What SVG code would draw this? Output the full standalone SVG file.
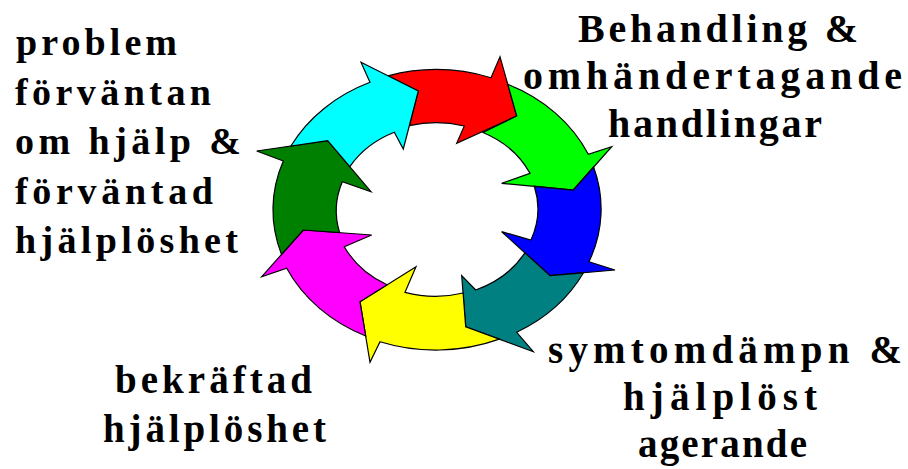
<svg xmlns="http://www.w3.org/2000/svg" width="908" height="469" viewBox="0 0 908 469">
<style>
.a{stroke:#000;stroke-width:1.2;stroke-linejoin:miter}
.t{font-family:"Liberation Serif","Times New Roman",serif;font-weight:bold;fill:#000}
.l{font-size:38px}
.r{font-size:40px}
.b{font-size:39px}
</style>
<rect width="908" height="469" fill="#fff"/>
<g id="connectors">
<path id="red" class="a" fill="#FF0000" d="M388,75.8 A164,140 0 0 1 491,77.7 L500,56.7 L516.7,116 L456.7,143.3 L464.3,126 A101,86 0 0 0 409.3,125.7 L418.3,91 Z"/>
<path id="green" class="a" fill="#00FF00" d="M507.8,84.3 A164,140 0 0 1 588.3,154.3 L611.7,146.7 L573.3,190 L501.7,183.3 L530,173.3 A101,86 0 0 0 483,132.5 L516.7,116 Z"/>
<path id="blue" class="a" fill="#0000FF" d="M593.6,167 A164,140 0 0 1 589,261.7 L615,270 L550,275.7 L501.7,231.7 L531,240 A101,86 0 0 0 534.3,186.3 L573.3,190 Z"/>
<path id="teal" class="a" fill="#008080" d="M583.5,272.8 A164,140 0 0 1 516.7,332.3 L533.3,351.7 L465.7,326.7 L461.7,275.7 L475.7,290 A101,86 0 0 0 524.9,252.8 L550,275.7 Z"/>
<path id="yellow" class="a" fill="#FFFF00" d="M499.3,339.1 A164,140 0 0 1 380,341.7 L370,362.3 L360,301.7 L416,266.7 L405,292.3 A101,86 0 0 0 463.1,293 L465.7,326.7 Z"/>
<path id="magenta" class="a" fill="#FF00FF" d="M365.7,336 A164,140 0 0 1 286.7,268.3 L261.7,276.7 L303.3,230 L371.7,235 L344.3,246.7 A101,86 0 0 0 387.1,284.8 L360,301.7 Z"/>
<path id="darkgreen" class="a" fill="#008000" d="M281.5,254.5 A164,140 0 0 1 283.3,161 L256.7,151 L327.7,140.7 L371,191.7 L342.3,181.7 A101,86 0 0 0 339.6,232.65 L303.3,230 Z"/>
<path id="cyan" class="a" fill="#00FFFF" d="M290.9,146.05 A164,140 0 0 1 370,82.3 L361,62.3 L418.3,91 L403.3,149 L394.3,132.3 A101,86 0 0 0 349.8,166.7 L327.7,140.7 Z"/>
</g>
<g id="label-problem" class="t l">
<text x="16" y="55" textLength="161" lengthAdjust="spacing">problem</text>
<text x="15" y="104.5" textLength="196" lengthAdjust="spacing">förväntan</text>
<text x="15" y="154" textLength="226" lengthAdjust="spacing">om hjälp &amp;</text>
<text x="15" y="203.5" textLength="198" lengthAdjust="spacing">förväntad</text>
<text x="15" y="253" textLength="223" lengthAdjust="spacing">hjälplöshet</text>
</g>
<g id="label-behandling" class="t r">
<text x="578" y="42" textLength="280" lengthAdjust="spacing">Behandling &amp;</text>
<text x="523" y="89" textLength="379" lengthAdjust="spacing">omhändertagande</text>
<text x="608" y="137" textLength="214" lengthAdjust="spacing">handlingar</text>
</g>
<g id="label-symtom" class="t b">
<text x="548" y="363" textLength="354" lengthAdjust="spacing">symtomdämpn &amp;</text>
<text x="623" y="410" textLength="194" lengthAdjust="spacing">hjälplöst</text>
<text x="638" y="457" textLength="169" lengthAdjust="spacing">agerande</text>
</g>
<g id="label-bekraftad" class="t b">
<text x="115" y="393" textLength="197" lengthAdjust="spacing">bekräftad</text>
<text x="103" y="442" textLength="223" lengthAdjust="spacing">hjälplöshet</text>
</g>
</svg>
